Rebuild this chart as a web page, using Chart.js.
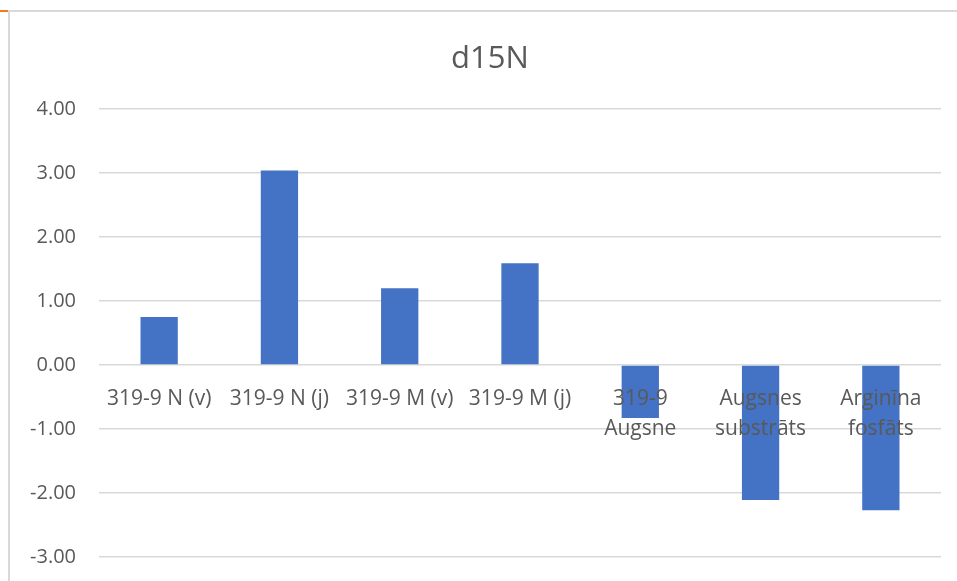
<!DOCTYPE html>
<html>
<head>
<meta charset="utf-8">
<script src="https://cdn.jsdelivr.net/npm/chart.js@4"></script>
<style>
  html, body { margin: 0; padding: 0; background: #ffffff; }
  #wrap { position: relative; width: 957px; height: 581px; overflow: hidden; }
  #frame { position: absolute; left: 8px; top: 10px; width: 1000px; height: 700px;
           border-left: 2px solid #d9d9d9; border-top: 2px solid #d9d9d9; box-sizing: border-box; }
  #mark { position: absolute; left: 0; top: 10px; width: 8px; height: 2px; background: #f07c22; }
  canvas { position: absolute; left: 0; top: 0; }
</style>
</head>
<body>
<div id="wrap">
  <div id="frame"></div>
  <div id="mark"></div>
  <canvas id="c" width="957" height="581"></canvas>
</div>
<script>
// d15N per sample
const categories = [
  '319-9 N (v)',
  '319-9 N (j)',
  '319-9 M (v)',
  '319-9 M (j)',
  ['319-9', 'Augsne'],
  ['Augsnes', 'substrāts'],
  ['Arginīna', 'fosfāts']
];
const d15N = [0.75, 3.04, 1.20, 1.59, -0.83, -2.11, -2.27];
const yTicks = [4, 3, 2, 1, 0, -1, -2, -3];

const FONT = "'Open Sans', 'Noto Sans', sans-serif";
const TEXT = '#595959';
const GRID = '#d9d9d9';

new Chart(document.getElementById('c'), {
  type: 'bar',
  data: {
    labels: categories,
    datasets: [{
      label: 'd15N',
      data: d15N,
      backgroundColor: '#4472c4',
      borderWidth: 0,
      barPercentage: 0.31,
      categoryPercentage: 1.0
    }]
  },
  options: {
    responsive: false,
    animation: false,
    layout: { padding: { left: 23, right: 0, top: 0, bottom: 24 } },
    plugins: {
      legend: { display: false },
      tooltip: { enabled: false },
      title: {
        display: true,
        text: 'd15N',
        color: TEXT,
        font: { family: FONT, size: 31, weight: 'normal', lineHeight: 1.2 },
        padding: { top: 40.4, bottom: 31.4 }
      }
    },
    scales: {
      x: {
        position: { y: 0 },
        grid: { display: false },
        border: { display: false },
        ticks: {
          z: 1,
          color: TEXT,
          font: { family: FONT, size: 21, lineHeight: 1.43 },
          padding: 11,
          maxRotation: 0,
          autoSkip: false
        }
      },
      y: {
        min: -3,
        max: 4,
        afterFit: (s) => { s.width = 76; },
        afterBuildTicks: (s) => { s.ticks = yTicks.map(v => ({ value: v })); },
        grid: { color: GRID, lineWidth: 1.5, drawTicks: true, tickLength: 23, tickColor: 'rgba(0,0,0,0)' },
        border: { display: false },
        ticks: {
          color: TEXT,
          font: { family: FONT, size: 20, lineHeight: 1.2 },
          padding: 0,
          callback: (v) => Number(v).toFixed(2)
        }
      },
      // empty right-hand margin beside the plot
      yRight: {
        position: 'right',
        afterFit: (s) => { s.width = 16; },
        grid: { display: false },
        border: { display: false },
        ticks: { display: false }
      }
    }
  }
});
</script>
</body>
</html>
